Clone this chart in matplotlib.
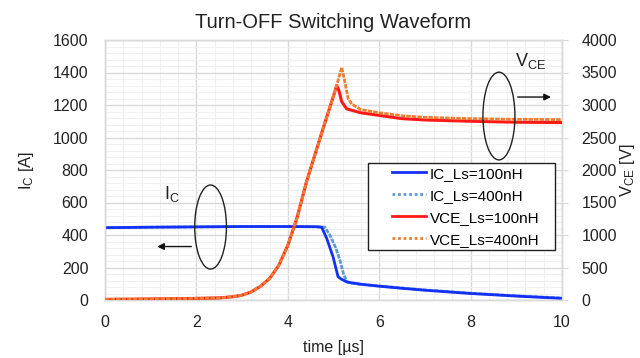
import matplotlib
matplotlib.use("Agg")
import matplotlib.pyplot as plt
from matplotlib.patches import Arc, Ellipse, Rectangle
from matplotlib.ticker import MultipleLocator

plt.rcParams['font.family'] = ['Liberation Sans', 'DejaVu Sans']
plt.rcParams['mathtext.fontset'] = 'custom'
plt.rcParams['mathtext.rm'] = 'Liberation Sans'
plt.rcParams['mathtext.it'] = 'Liberation Sans:italic'

# ---- data ----
t_ic100 = [0, 1, 2, 3, 4, 4.6, 4.74, 4.85, 4.99, 5.1, 5.18, 5.3, 5.6, 6, 6.5, 7, 7.5, 8, 8.5, 9, 9.5, 10]
ic100 = [445, 448, 450, 452, 452, 451, 448, 380, 266, 143, 127, 110, 97, 85, 72, 60, 50, 40, 32, 24, 17, 10]

t_ic400 = [0, 1, 2, 3, 4, 4.6, 4.81, 4.92, 5.05, 5.14, 5.22, 5.29, 5.4, 5.6, 6, 6.5, 7, 7.5, 8, 8.5, 9, 9.5, 10]
ic400 = [445, 448, 450, 452, 452, 451, 448, 400, 320, 246, 160, 113, 104, 96, 86, 74, 62, 52, 42, 34, 26, 19, 12]

t_v100 = [0, 1, 2, 2.5, 2.8, 3.0, 3.2, 3.4, 3.6, 3.8, 4.0, 4.2, 4.41, 4.6, 4.8, 5.0, 5.07, 5.12, 5.18, 5.29, 5.6, 6, 6.5, 7, 8, 9, 10]
v100 = [10, 15, 25, 32, 50, 75, 125, 210, 330, 530, 840, 1260, 1820, 2250, 2700, 3140, 3300, 3220, 3050, 2940, 2880, 2840, 2790, 2770, 2750, 2735, 2730]

t_v400 = [0, 1, 2, 2.5, 2.8, 3.0, 3.2, 3.4, 3.6, 3.8, 4.0, 4.2, 4.41, 4.6, 4.8, 5.0, 5.07, 5.18, 5.25, 5.32, 5.4, 5.6, 6, 6.5, 7, 8, 9, 10]
v400 = [10, 15, 25, 32, 50, 75, 125, 210, 330, 530, 840, 1260, 1820, 2250, 2700, 3140, 3300, 3580, 3350, 3100, 3015, 2930, 2880, 2835, 2810, 2790, 2780, 2775]

labels = ['IC_Ls=100nH', 'IC_Ls=400nH', 'VCE_Ls=100nH', 'VCE_Ls=400nH']
x_ticks = [0, 2, 4, 6, 8, 10]
ic_ticks = [0, 200, 400, 600, 800, 1000, 1200, 1400, 1600]
v_ticks = [0, 500, 1000, 1500, 2000, 2500, 3000, 3500, 4000]

c_ic100 = '#1530F5'
c_ic400 = '#5B9BD5'
c_v100 = '#FF1A1A'
c_v400 = '#ED7D31'

fig = plt.figure(figsize=(6.4, 3.58), dpi=100)
ax = fig.add_axes([105/640, 58/358, 457/640, 260/358])
ax2 = ax.twinx()

l2, = ax.plot(t_ic400, ic400, color=c_ic400, lw=2.0, ls=(0, (1.6, 0.4)), zorder=3)
l1, = ax.plot(t_ic100, ic100, color=c_ic100, lw=2.0, zorder=4)
l3, = ax2.plot(t_v100, v100, color=c_v100, lw=2.2, zorder=3)
l4, = ax2.plot(t_v400, v400, color=c_v400, lw=2.0, ls=(0, (1.6, 0.4)), zorder=4)

ax.set_xlim(0, 10)
ax.set_ylim(0, 1600)
ax2.set_ylim(0, 4000)
ax.set_xticks(x_ticks)
ax.set_yticks(ic_ticks)
ax2.set_yticks(v_ticks)
ax.xaxis.set_minor_locator(MultipleLocator(0.4))
ax.yaxis.set_minor_locator(MultipleLocator(40))

ax.grid(which='major', color='#d9d9d9', lw=1.0, zorder=0)
ax.grid(which='minor', color='#f0f0f0', lw=0.8, zorder=0)
ax.set_axisbelow(True)

for a in (ax, ax2):
    for s in a.spines.values():
        s.set_color('#d9d9d9')
        s.set_linewidth(1.0)

ax.tick_params(axis='both', which='both', length=0, labelsize=11.5, colors='#222222')
ax.tick_params(axis='x', pad=11)
ax.tick_params(axis='y', pad=12)
ax2.tick_params(axis='y', which='both', length=4, color='#d9d9d9', labelsize=11.5, pad=10, labelcolor='#222222')
ax2.tick_params(axis='y', which='minor', length=0)

ax.set_title('Turn-OFF Switching Waveform', fontsize=14.5, pad=9, color='#222222')
ax.set_xlabel('time [µs]', fontsize=11.5, labelpad=7, color='#222222')
ax.set_ylabel(r'I$_\mathrm{C}$ [A]', fontsize=12, labelpad=12, color='#222222')
ax2.set_ylabel(r'V$_\mathrm{CE}$ [V]', fontsize=12, labelpad=1, color='#222222')

# annotations (left: IC, right: VCE)
ax.add_patch(Arc((2.31, 449), 0.694, 517, theta1=196, theta2=524, color='#222222', lw=1.0, zorder=6))
ax.annotate('', xy=(1.08, 329), xytext=(1.95, 329),
            arrowprops=dict(arrowstyle='-|>', color='#111111', lw=1.0, mutation_scale=10), zorder=6)
ax.text(1.47, 655, r'I$_\mathrm{C}$', fontsize=13, ha='center', va='center', color='#222222')

ax2.add_patch(Ellipse((8.62, 1132 * 2.5), 0.70, 540 * 2.5, fill=False, edgecolor='#222222', lw=1.0, zorder=6))
ax2.annotate('', xy=(9.82, 1249 * 2.5), xytext=(8.97, 1249 * 2.5),
             arrowprops=dict(arrowstyle='-|>', color='#111111', lw=1.0, mutation_scale=10), zorder=6)
ax2.text(8.97, 1468 * 2.5, r'V$_\mathrm{CE}$', fontsize=13, ha='left', va='center', color='#222222')

# legend: frame drawn separately, entries placed inside
ax2.add_patch(Rectangle((0.575, 0.192), 0.41, 0.335, transform=ax2.transAxes,
                        facecolor='white', edgecolor='#222222', lw=1.0, zorder=7))
leg = ax2.legend([l1, l2, l3, l4], labels, loc='upper left',
                 bbox_to_anchor=(0.618, 0.53), borderaxespad=0, fontsize=11,
                 handlelength=2.2, handletextpad=0.25, labelspacing=0.52,
                 borderpad=0.3, frameon=False)
leg.set_zorder(8)
for h in leg.get_lines():
    h.set_linewidth(2.0)
leg.get_lines()[1].set_linestyle((0, (1, 1)))
leg.get_lines()[3].set_linestyle((0, (1, 1)))

fig.savefig('out.png', dpi=100)
